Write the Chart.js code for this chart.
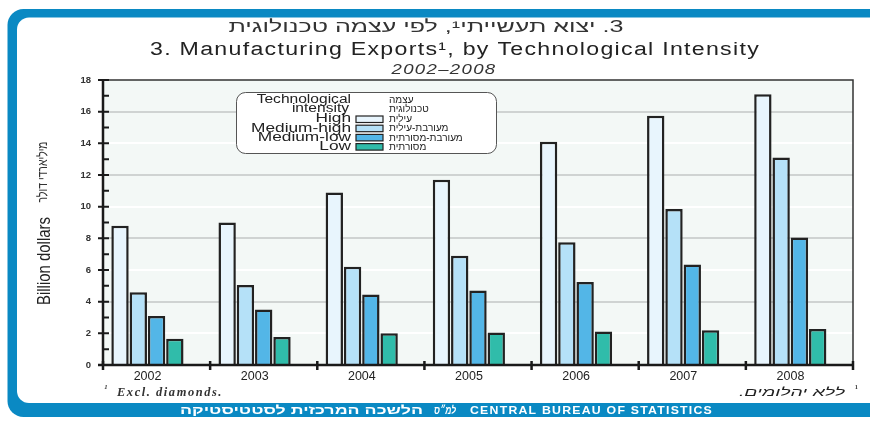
<!DOCTYPE html>
<html lang="en">
<head>
    <meta charset="UTF-8">
    <title>Manufacturing Exports</title>
    <style>
        html, body { margin: 0; padding: 0; background: #fff; overflow: hidden; }
        canvas { display: block; }
    </style>
</head>
<body>
    <script src="https://cdn.jsdelivr.net/npm/chart.js@4.4.0/dist/chart.umd.min.js"></script>
    <canvas id="chart" width="870" height="421"></canvas>

    <script>
        // data (billion dollars)
        const years = ["2002", "2003", "2004", "2005", "2006", "2007", "2008"];
        const high = [8.8, 9.0, 10.9, 11.7, 14.1, 15.75, 17.1];
        const mediumHigh = [4.6, 5.05, 6.2, 6.9, 7.75, 9.85, 13.1];
        const mediumLow = [3.1, 3.5, 4.45, 4.7, 5.25, 6.35, 8.05];
        const low = [1.66, 1.77, 2.0, 2.06, 2.12, 2.2, 2.27];
        const seriesNames = ["High", "Medium-high", "Medium-low", "Low"];
        const seriesNamesHe = ["עילית", "מעורבת-עילית", "מעורבת-מסורתית", "מסורתית"];
        const yMin = 0, yMax = 18, yStep = 2;

        const colors = ["#e8f5fd", "#b5e1f8", "#53b6e7", "#30bcaa"];
        const blue = "#0a89c3";

        // text with horizontal squeeze/stretch so it fills a width
        function txt(ctx, s, x, y, font, opts) {
            opts = opts || {};
            ctx.save();
            ctx.font = font;
            ctx.fillStyle = opts.color || "#222";
            ctx.direction = opts.rtl ? "rtl" : "ltr";
            ctx.letterSpacing = opts.spacing || "0px";
            ctx.textBaseline = opts.baseline || "alphabetic";
            ctx.textAlign = opts.align || "left";
            let k = opts.k || 1;
            if (opts.width) k = opts.width / ctx.measureText(s).width;
            ctx.translate(x, y);
            if (opts.rot) ctx.rotate(opts.rot);
            ctx.scale(k, 1);
            ctx.fillText(s, 0, 0);
            ctx.restore();
        }

        function roundRect(ctx, x, y, w, h, r) {
            ctx.beginPath();
            ctx.roundRect(x, y, w, h, r);
        }

        const decor = {
            id: "decor",
            beforeDraw(chart) {
                const ctx = chart.ctx, a = chart.chartArea;
                ctx.save();
                ctx.fillStyle = "#fff";
                ctx.fillRect(0, 0, chart.width, chart.height);
                // blue frame: thick on the left and top, banner at the bottom,
                // the right side runs off the page so only its corners show
                ctx.fillStyle = blue;
                roundRect(ctx, 7.5, 9, 878, 408, 16);
                ctx.fill();
                ctx.fillStyle = "#fff";
                roundRect(ctx, 17, 17.5, 865, 385.5, 12);
                ctx.fill();
                ctx.fillRect(850, 28, 20, 366);
                ctx.fillStyle = "#f3f8f6";
                ctx.fillRect(a.left, a.top, a.right - a.left, a.bottom - a.top);
                ctx.restore();
            },
            afterDraw(chart) {
                const ctx = chart.ctx, a = chart.chartArea;
                const ys = chart.scales.y, xs = chart.scales.x;
                ctx.save();
                // frame top / right
                ctx.strokeStyle = "#333";
                ctx.lineWidth = 1.5;
                ctx.beginPath();
                ctx.moveTo(a.left, a.top);
                ctx.lineTo(a.right, a.top);
                ctx.lineTo(a.right, a.bottom);
                ctx.stroke();
                // axes
                ctx.strokeStyle = "#1a1a1a";
                ctx.lineWidth = 2.5;
                ctx.beginPath();
                ctx.moveTo(a.left, a.top);
                ctx.lineTo(a.left, a.bottom + 1);
                ctx.moveTo(a.left - 5, a.bottom);
                ctx.lineTo(a.right + 1, a.bottom);
                ctx.stroke();
                // y ticks, major on even values, minor between
                ctx.lineWidth = 2;
                ctx.beginPath();
                for (let v = yMin; v <= yMax; v++) {
                    const y = ys.getPixelForValue(v);
                    ctx.moveTo(v % yStep === 0 ? a.left - 5 : a.left, y);
                    ctx.lineTo(a.left + 6, y);
                }
                ctx.stroke();
                // x ticks at category boundaries
                ctx.lineWidth = 2.5;
                ctx.beginPath();
                for (let i = 0; i <= years.length; i++) {
                    const x = xs.getPixelForValue(i - 0.5);
                    ctx.moveTo(x, a.bottom - 4);
                    ctx.lineTo(x, a.bottom + 5);
                }
                ctx.stroke();

                // titles
                txt(ctx, "3. יצוא תעשייתי¹, לפי עצמה טכנולוגית", 426, 31.5, "16px 'Liberation Sans'",
                    { rtl: true, align: "center", width: 395, color: "#333" });
                txt(ctx, "3. Manufacturing Exports¹, by Technological Intensity", 455, 55, "18px 'Liberation Sans'",
                    { align: "center", width: 610, spacing: "1px", color: "#222" });
                txt(ctx, "2002–2008", 444, 74, "italic 14px 'Liberation Sans'",
                    { align: "center", width: 105, spacing: "1px", color: "#333" });

                // y axis title
                txt(ctx, "Billion dollars", 50, 261, "19px 'Liberation Sans'",
                    { align: "center", width: 88, rot: -Math.PI / 2, color: "#222" });
                txt(ctx, "מיליארדי דולר", 47, 172, "14px 'Liberation Sans'",
                    { align: "center", width: 61, rot: -Math.PI / 2, rtl: true, color: "#333" });

                // legend
                ctx.strokeStyle = "#555";
                ctx.lineWidth = 1;
                ctx.fillStyle = "#fff";
                roundRect(ctx, 236.5, 92.5, 260, 61, 9);
                ctx.fill();
                ctx.stroke();
                const lf = "12px 'Liberation Sans'";
                ctx.font = lf;
                const k = 100 / ctx.measureText("Medium-high").width;
                const hf = "10px 'Liberation Sans'";
                txt(ctx, "Technological", 351, 100, lf, { align: "right", k: k * 0.9, baseline: "middle" });
                txt(ctx, "intensity", 349, 109, lf, { align: "right", k: k * 0.9, baseline: "middle" });
                txt(ctx, "עצמה", 389, 100, hf, { align: "left", rtl: true, baseline: "middle" });
                txt(ctx, "טכנולוגית", 389, 109.5, hf, { align: "left", rtl: true, baseline: "middle" });
                chart.data.datasets.slice(0, seriesNames.length).forEach((ds, i) => {
                    const y = 119 + i * 9.2;
                    txt(ctx, ds.label, 351, y, lf, { align: "right", k: k, baseline: "middle" });
                    ctx.fillStyle = ds.backgroundColor;
                    ctx.fillRect(356, y - 3, 27, 6.5);
                    ctx.strokeStyle = "#222";
                    ctx.lineWidth = 1.2;
                    ctx.strokeRect(356, y - 3, 27, 6.5);
                    txt(ctx, seriesNamesHe[i], 389, y + 0.5, hf, { align: "left", rtl: true, baseline: "middle" });
                });

                // footnotes
                txt(ctx, "¹", 104, 392, "italic 11px 'Liberation Serif'", { color: "#222" });
                txt(ctx, "Excl. diamonds.", 117, 396, "italic bold 12px 'Liberation Serif'",
                    { width: 106, spacing: "1.5px", color: "#333" });
                txt(ctx, "ללא יהלומים.", 845, 396, "italic 11px 'Liberation Sans'",
                    { rtl: true, align: "right", width: 106, color: "#222" });
                txt(ctx, "¹", 858, 392, "11px 'Liberation Serif'", { color: "#222", align: "right" });

                // bottom banner text
                txt(ctx, "הלשכה המרכזית לסטטיסטיקה", 423, 414, "bold 12px 'Liberation Sans'",
                    { rtl: true, align: "right", width: 243, color: "#fff" });
                txt(ctx, "למ״ס", 445, 414, "bold italic 11px 'Liberation Sans'",
                    { rtl: true, align: "center", width: 22, color: "#fff" });
                txt(ctx, "CENTRAL BUREAU OF STATISTICS", 470, 414, "bold 10px 'Liberation Sans'",
                    { width: 243, spacing: "1px", color: "#fff" });
                ctx.restore();
            }
        };

        const series = [high, mediumHigh, mediumLow, low];
        const datasets = series.map((d, i) => ({
            label: seriesNames[i],
            data: d,
            backgroundColor: colors[i],
            borderColor: "#222",
            borderWidth: 2.5,
            barPercentage: 0.95,
            categoryPercentage: 0.853
        }));
        // empty fifth slot: the bars sit left of the category centre in the original
        datasets.push({ label: "", data: [], barPercentage: 0.95, categoryPercentage: 0.853 });

        new Chart(document.getElementById("chart"), {
            type: "bar",
            data: { labels: years, datasets: datasets },
            plugins: [decor],
            options: {
                responsive: false,
                animation: false,
                layout: { padding: { left: 0, right: 17, top: 80, bottom: 0 } },
                plugins: {
                    legend: { display: false },
                    title: { display: false },
                    tooltip: { enabled: false }
                },
                scales: {
                    x: {
                        grid: { display: false, drawTicks: false },
                        border: { display: false },
                        ticks: {
                            color: "#222",
                            font: { family: "'Liberation Sans'", size: 12.5 },
                            padding: 4,
                            labelOffset: -9,
                            maxRotation: 0
                        },
                        afterFit: s => { s.height = 56; }
                    },
                    y: {
                        min: yMin,
                        max: yMax,
                        grid: {
                            drawTicks: false,
                            lineWidth: 2,
                            color: c => {
                                const v = c.tick.value;
                                if (v === yMin || v === yMax) return "rgba(0,0,0,0)";
                                return v % 4 === 0 ? "#cfd3d2" : "#ffffff";
                            }
                        },
                        border: { display: false },
                        ticks: {
                            stepSize: yStep,
                            color: "#333",
                            font: { family: "'Liberation Sans'", size: 9.5, weight: "bold" },
                            padding: 12
                        },
                        afterFit: s => { s.width = 103; }
                    }
                }
            }
        });
    </script>
</body>
</html>
